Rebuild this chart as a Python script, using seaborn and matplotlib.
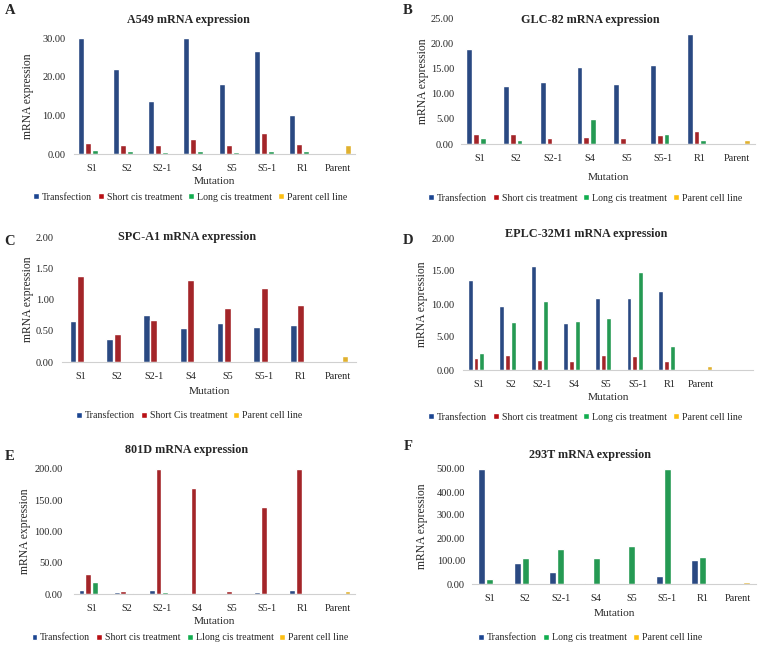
import pandas as pd
import seaborn as sns
import matplotlib.pyplot as plt
from matplotlib.patches import Patch

mutations = ['S1', 'S2', 'S2-1', 'S4', 'S5', 'S5-1', 'R1', 'Parent']

# A549
a549_transfection = [30.0, 22.1, 13.8, 30.0, 18.2, 26.7, 10.1]
a549_short = [2.8, 2.2, 2.2, 4.0, 2.2, 5.5, 2.6]
a549_long = [1.0, 0.9, 0.6, 0.7, 0.5, 0.9, 0.9]
a549_parent = 2.2

# GLC-82
glc82_transfection = [18.85, 11.6, 12.4, 15.2, 11.9, 15.6, 21.8]
glc82_short = [2.05, 1.9, 1.25, 1.3, 1.2, 1.85, 2.6]
glc82_long = [1.1, 0.8, 0.0, 4.9, 0.0, 1.9, 0.85]
glc82_parent = 0.8

# SPC-A1
spca1_transfection = [0.65, 0.375, 0.75, 0.54, 0.62, 0.56, 0.59]
spca1_short = [1.38, 0.445, 0.68, 1.32, 0.87, 1.185, 0.905]
spca1_parent = 0.09

# EPLC-32M1
eplc_transfection = [13.6, 9.7, 15.7, 7.1, 10.9, 10.9, 11.95]
eplc_short = [1.8, 2.2, 1.5, 1.4, 2.2, 2.1, 1.3]
eplc_long = [2.6, 7.3, 10.5, 7.45, 7.95, 14.9, 3.7]
eplc_parent = 0.55

# 801D
d801_transfection = [6.4, 3.2, 6.4, 2.1, 1.6, 2.7, 6.4]
d801_short = [32.5, 4.8, 200.0, 170.0, 4.8, 139.0, 200.0]
d801_long = [19.7, 1.6, 3.7, 0.0, 0.0, 0.0, 1.6]
d801_parent = 4.8

# 293T
t293_transfection = [500.0, 90.0, 52.0, 4.0, 0.0, 35.0, 103.0]
t293_long = [20.0, 112.0, 153.0, 112.0, 164.0, 500.0, 119.0]
t293_parent = 8.7

BLUE = '#1b4591'
RED = '#b81015'
GREEN = '#12ad4f'
YELLOW = '#fdbf12'
W, H = 760, 649


def make_frame(series, parent_name, parent_value):
    rows = []
    for name, values in series:
        for m, v in zip(mutations[:-1], values):
            rows.append({'mutation': m, 'group': name, 'value': v})
        rows.append({'mutation': 'Parent', 'group': name, 'value': float('nan')})
    for m in mutations[:-1]:
        rows.append({'mutation': m, 'group': parent_name, 'value': float('nan')})
    rows.append({'mutation': 'Parent', 'group': parent_name, 'value': parent_value})
    return pd.DataFrame(rows)


def panel(fig, rect, letter_xy, title_xy, xlab_y, ylab_x, leg_xy, letter, title,
          df, names, colors, ymax, step, width=0.78, gap=0.14, pad=6, xmax=None):
    l, t, r, b = rect
    ax = fig.add_axes([l / W, 1 - b / H, (r - l) / W, (b - t) / H])
    sns.barplot(data=df, x='mutation', y='value', hue='group', order=mutations,
                hue_order=names, palette=colors, width=width, gap=gap,
                errorbar=None, legend=False, ax=ax)
    ax.set_ylim(0, ymax)
    ticks = [i * step for i in range(int(round(ymax / step)) + 1)]
    ax.set_yticks(ticks)
    ax.set_yticklabels([f'{v:.2f}' for v in ticks])
    if xmax is not None:
        ax.set_xlim(-0.5, xmax)
    for s in ['top', 'right', 'left']:
        ax.spines[s].set_visible(False)
    ax.spines['bottom'].set_color('#d0d0d0')
    ax.tick_params(axis='y', length=0, labelsize=7.5, pad=pad)
    ax.tick_params(axis='x', length=0, labelsize=7.4, pad=7)
    ax.set_xlabel('Mutation', fontsize=8.2, va='center')
    ax.xaxis.set_label_coords(0.5, (b - xlab_y) / (b - t))
    ax.set_ylabel('mRNA expression', fontsize=8.4, va='center')
    ax.yaxis.set_label_coords((ylab_x - l) / (r - l), 0.5)
    fig.text(title_xy[0] / W, 1 - title_xy[1] / H, title, fontsize=8.7,
             fontweight='bold', ha='center', va='center')
    fig.text(letter_xy[0] / W, 1 - letter_xy[1] / H, letter, fontsize=10.5,
             fontweight='bold', ha='center', va='center')
    handles = [Patch(facecolor=c, label=n) for n, c in zip(names, colors)]
    fig.legend(handles=handles, loc='center',
               bbox_to_anchor=(leg_xy[0] / W, 1 - leg_xy[1] / H),
               ncol=len(names), frameon=False, fontsize=7.1, handlelength=0.6,
               handleheight=0.6, handletextpad=0.3, columnspacing=0.6,
               borderpad=0, borderaxespad=0)
    return ax


def main():
    sns.set_style('white')
    plt.rcParams['font.family'] = ['Liberation Serif', 'DejaVu Serif']
    fig = plt.figure(figsize=(7.6, 6.49), dpi=100)

    std = ['Transfection', 'Short cis treatment', 'Long cis treatment', 'Parent cell line']
    df = make_frame([(std[0], a549_transfection), (std[1], a549_short), (std[2], a549_long)],
                    std[3], a549_parent)
    panel(fig, (74, 38, 355, 154), (10, 11), (188, 20), 181, 28, (190, 197),
          'A', 'A549 mRNA expression', df, std, [BLUE, RED, GREEN, YELLOW], 30, 10,
          width=0.8, pad=6)

    df = make_frame([(std[0], glc82_transfection), (std[1], glc82_short), (std[2], glc82_long)],
                    std[3], glc82_parent)
    panel(fig, (461, 18, 755, 144), (408, 11), (590, 20), 177, 423, (585, 198),
          'B', 'GLC-82 mRNA expression', df, std, [BLUE, RED, GREEN, YELLOW], 25, 5,
          width=0.73, gap=0.15, pad=5)

    c_names = ['Transfection', 'Short Cis treatment', 'Parent cell line']
    df = make_frame([(c_names[0], spca1_transfection), (c_names[1], spca1_short)],
                    c_names[2], spca1_parent)
    panel(fig, (62, 237, 356, 362), (10, 241), (187, 237), 392, 28, (189, 416),
          'C', 'SPC-A1 mRNA expression', df, c_names, [BLUE, RED, YELLOW], 2, 0.5,
          width=0.6, gap=0.06, pad=6)

    df = make_frame([(std[0], eplc_transfection), (std[1], eplc_short), (std[2], eplc_long)],
                    std[3], eplc_parent)
    panel(fig, (463, 238, 753, 370), (408, 240), (586, 234), 397, 422, (585, 417),
          'D', 'EPLC-32M1 mRNA expression', df, std, [BLUE, RED, GREEN, YELLOW],
          20, 5, width=0.73, gap=0.15, pad=6, xmax=8.63)

    e_names = ['Transfection', 'Short cis treatment', 'Llong cis treatment', 'Parent cell line']
    df = make_frame([(e_names[0], d801_transfection), (e_names[1], d801_short),
                     (e_names[2], d801_long)], e_names[3], d801_parent)
    panel(fig, (74, 469, 355, 594), (10, 456), (187, 450), 622, 25, (190, 638),
          'E', '801D mRNA expression', df, e_names, [BLUE, RED, GREEN, YELLOW], 200, 50,
          width=0.76, gap=0.14, pad=8)

    f_names = ['Transfection', 'Long cis treatment', 'Parent cell line']
    df = make_frame([(f_names[0], t293_transfection), (f_names[1], t293_long)],
                    f_names[2], t293_parent)
    panel(fig, (472, 469, 756, 584), (408, 446), (590, 455), 613, 422, (590, 638),
          'F', '293T mRNA expression', df, f_names, [BLUE, GREEN, YELLOW], 500, 100,
          width=0.68, gap=0.15, pad=5)

    plt.savefig('out.png', dpi=100)


if __name__ == '__main__':
    main()
